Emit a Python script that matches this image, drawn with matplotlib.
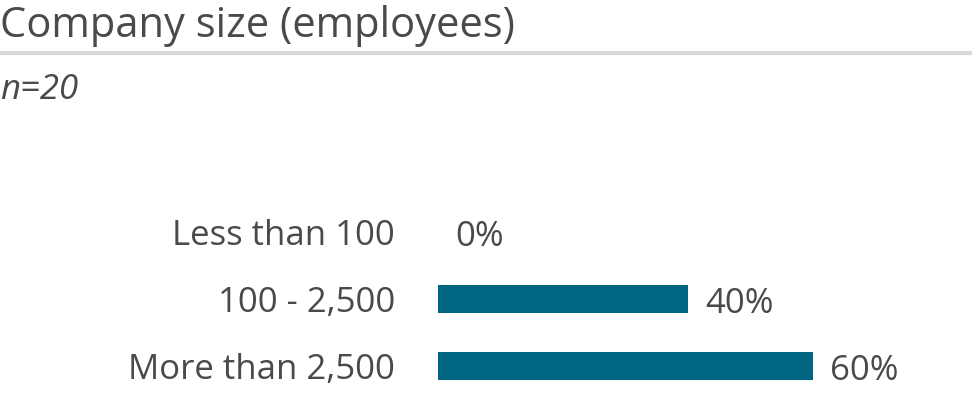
import matplotlib
matplotlib.use("Agg")
import matplotlib.pyplot as plt

categories = ["Less than 100", "100 - 2,500", "More than 2,500"]
values = [0, 40, 60]
title = "Company size (employees)"
subtitle = "n=20"

W, H = 972, 393
fig = plt.figure(figsize=(W/100, H/100), dpi=100)
plt.rcParams['font.family'] = ['Open Sans', 'DejaVu Sans']
text_color = "#4a4a4a"
bar_color = "#006580"

fig.text(0/W, 1 - 37/H, title, fontsize=30, color=text_color, va="baseline", ha="left")
fig.add_artist(plt.Line2D([0, 1], [1 - 53/H, 1 - 53/H], color="#d9d9d9", lw=3, transform=fig.transFigure))
fig.text(0/W, 1 - 99/H, subtitle, fontsize=25, color=text_color, style="italic", va="baseline", ha="left")

row = 67.0
top_px = 232 - row/2
bottom_px = H
ax = fig.add_axes([438/W, 0, 500/W, (H - top_px)/H])
ax.set_xlim(0, 80)
span = (bottom_px - top_px) / row
ax.set_ylim(span - 0.5, -0.5)
y = list(range(len(categories)))
ax.barh(y, values, height=28/row, color=bar_color)
for yi, v in zip(y, values):
    ax.text(v + 17/6.25, yi + 0.07, f"{v}%", fontsize=25, color=text_color,
            va="center", ha="left")
ax.set_yticks(y)
ax.set_yticklabels(categories, fontsize=25, color=text_color)
ax.tick_params(axis="y", length=0, pad=31)
ax.set_xticks([])
for s in ax.spines.values():
    s.set_visible(False)
ax.patch.set_alpha(0)
fig.savefig("out.png", dpi=100)
